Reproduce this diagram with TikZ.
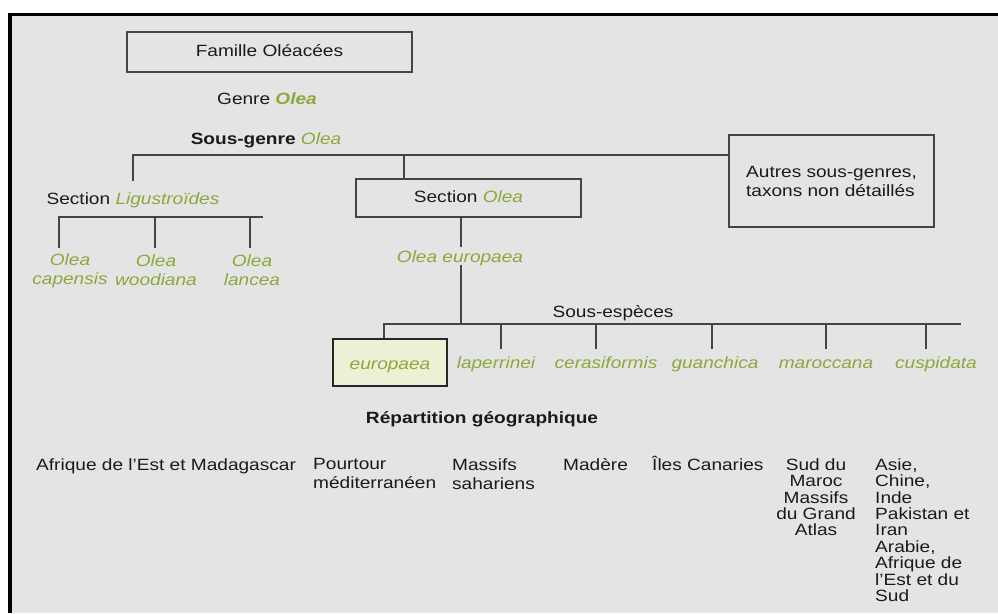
\documentclass[tikz,border=0pt]{standalone}
\usepackage{fontspec}
\setmainfont{Liberation Sans}[FakeStretch=1.17]
\definecolor{bg}{HTML}{E4E4E4}
\definecolor{olv}{RGB}{140,168,60}
\definecolor{ink}{HTML}{1A1A1A}
\definecolor{ln}{HTML}{454545}
\definecolor{eufill}{HTML}{EEF0D6}
\begin{document}
\begin{tikzpicture}[x=1pt,y=-1pt,
  txt/.style={font=\fontsize{16.3}{19}\selectfont, text=ink, inner sep=0pt},
  one/.style={text height=12, text depth=3.5},
  col/.style={txt, font=\fontsize{16.3}{16.4}\selectfont},
  box/.style={draw=ln, line width=1.6pt, inner sep=0pt, txt},
  conn/.style={draw=ln, line width=1.8pt},
  sp/.style={txt, text=olv, font=\fontsize{16.3}{19}\selectfont\itshape},
  eubox/.style={sp, text height=16, text depth=1.5, draw=black!85, line width=2pt, fill=eufill}]
\useasboundingbox (0,0) rectangle (998,613);
\fill[white] (0,0) rectangle (998,613);
\fill[bg] (10,15) rectangle (998,613);
\draw[black, line width=3.5pt] (8,14.5) -- (998,14.5);
\draw[black, line width=4pt] (10,13) -- (10,613);

% nodes
\node[box, one, minimum width=285, minimum height=40] (fam) at (269.5,52) {Famille Oléacées};
\node[txt, one] (genre) at (267,100) {Genre \textcolor{olv}{\textbf{\textit{Olea}}}};
\node[txt, one] (sg) at (266,140) {\textbf{Sous-genre} \textcolor{olv}{\textit{Olea}}};
\node[txt, one] (lig) at (133,200) {Section \textcolor{olv}{\textit{Ligustroïdes}}};
\node[box, one, minimum width=225, minimum height=38] (secolea) at (468.5,198) {Section \textcolor{olv}{\textit{Olea}}};
\node[box, minimum width=205, minimum height=92, align=left] (autres) at (831.5,181) {Autres sous-genres,\\taxons non détaillés};

\node[sp, align=center] (cap) at (70,270.5) {Olea\\capensis};
\node[sp, align=center] (woo) at (156,270.5) {Olea\\woodiana};
\node[sp, align=center] (lan) at (252,270.5) {Olea\\lancea};
\node[sp, one] (oeu) at (460,258) {Olea europaea};
\node[txt, one] (sse) at (613,313) {Sous-espèces};

\node[eubox, minimum width=114, minimum height=47] (eub) at (390,362.5) {europaea};
\node[sp, one] (lap) at (496,364) {laperrinei};
\node[sp, one] (cer) at (606,364) {cerasiformis};
\node[sp, one] (gua) at (715,364) {guanchica};
\node[sp, one] (mar) at (826,364) {maroccana};
\node[sp, one] (cus) at (936,364) {cuspidata};

\node[txt, one, font=\fontsize{16.3}{19}\selectfont\bfseries] (rep) at (482,419) {Répartition géographique};

\node[txt, anchor=north west] (g1) at (36,458.2) {Afrique de l’Est et Madagascar};
\node[txt, anchor=north west, align=left] (g2) at (313,458.2) {Pourtour\\méditerranéen};
\node[txt, anchor=north west, align=left] (g3) at (452,458.2) {Massifs\\sahariens};
\node[txt, anchor=north west] (g4) at (563,458.2) {Madère};
\node[txt, anchor=base west] (g5) at (652,470) {Îles Canaries};
\node[col, anchor=north, align=center] (g6) at (816,458.2) {Sud du\\Maroc\\Massifs\\du Grand\\Atlas};
\node[col, anchor=north west, align=left] (g7) at (875,458.2) {Asie,\\Chine,\\Inde\\Pakistan et\\Iran\\Arabie,\\Afrique de\\l’Est et du\\Sud};

% connector coordinates
\coordinate (sgbar) at (0,155);
\coordinate (ligtop) at (133,181);
\coordinate (sgO) at (404,155);
\coordinate (ligbar) at (0,217);
\coordinate (t1) at (59,248);
\coordinate (t2) at (155,248);
\coordinate (t3) at (250,248);
\coordinate (ligend) at (263,217);
\coordinate (oeutop) at (461,247);
\coordinate (oeubot) at (461,265);
\coordinate (ssbar) at (0,324);
\coordinate (ssend) at (961,324);
\coordinate (eutick) at (384,0);
\coordinate (lapt) at (501,349);
\coordinate (cert) at (596,349);
\coordinate (guat) at (712,349);
\coordinate (mart) at (826,349);
\coordinate (cust) at (926,349);

% connectors
\draw[conn] (ligtop) |- (autres.west |- sgbar);
\draw[conn] (sgO) -- (sgO |- secolea.north);
\draw[conn] (t1) |- (ligend);
\draw[conn] (t2) -- (t2 |- ligbar);
\draw[conn] (t3) -- (t3 |- ligbar);
\draw[conn] (oeutop) -- (oeutop |- secolea.south);
\draw[conn] (oeubot) -- (oeubot |- ssbar);
\draw[conn] (eutick |- eub.north) |- (ssend);
\foreach \t in {lapt,cert,guat,mart,cust}
  \draw[conn] (\t) -- (\t |- ssbar);
\end{tikzpicture}
\end{document}
